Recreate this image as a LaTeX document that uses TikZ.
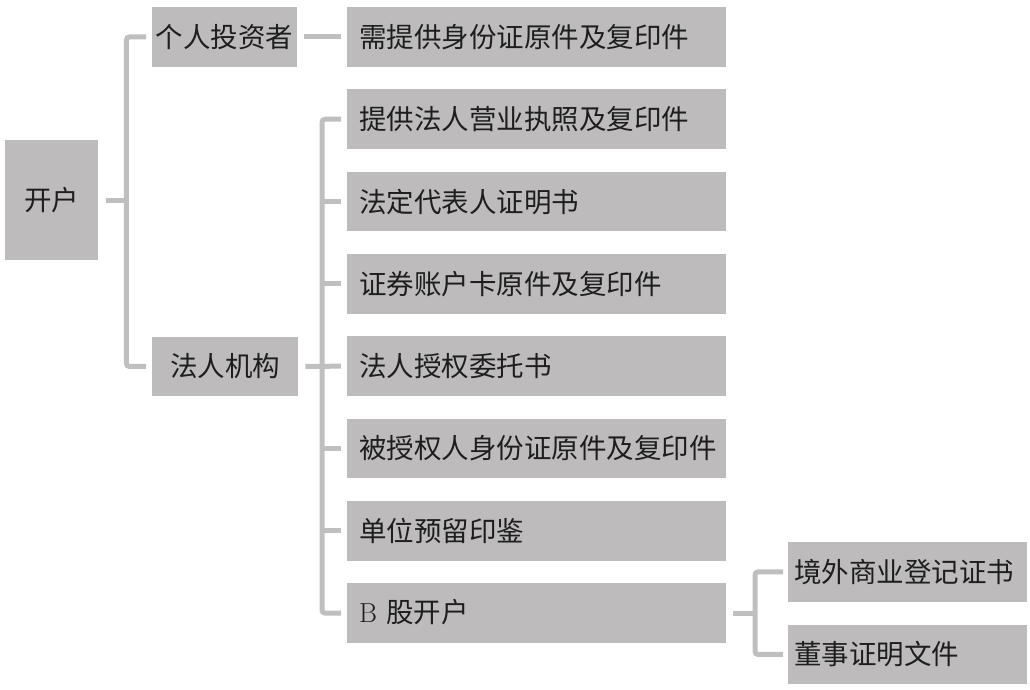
\documentclass[tikz,border=0pt]{standalone}
\usepackage{fontspec}
\newfontfamily\cjk{Noto Sans CJK SC}
\definecolor{boxgray}{RGB}{189,187,188}
\definecolor{linegray}{RGB}{192,191,191}
\definecolor{ink}{RGB}{30,30,30}
\begin{document}
\begin{tikzpicture}[x=1pt,y=-1pt,
  box/.style={fill=boxgray, draw=none, text=ink, inner sep=0pt, anchor=north west,
    font=\cjk\fontsize{27.5}{30}\selectfont},
  cbox/.style={box, align=center},
  lbox/.style={box, minimum width=379pt, minimum height=59.5pt, text width=355pt, align=left},
  sbox/.style={box, minimum width=239pt, minimum height=59.5pt, text width=227pt, align=left},
  conn/.style={draw=linegray, line width=5pt, rounded corners=3pt}
]
\useasboundingbox (0,0) rectangle (1030,690);

% level 0
\node[cbox, minimum width=93pt, minimum height=120pt] (kh) at (5,140) {开户};
% level 1
\node[cbox, minimum width=145pt, minimum height=59.5pt] (gr) at (152,7) {个人投资者};
\node[cbox, minimum width=146pt, minimum height=59.5pt] (fr) at (152,336.5) {法人机构};
% level 2
\node[lbox] (r0) at (347,7) {需提供身份证原件及复印件};
\node[lbox] (r1) at (347,89.3) {提供法人营业执照及复印件};
\node[lbox] (r2) at (347,171.6) {法定代表人证明书};
\node[lbox] (r3) at (347,253.9) {证券账户卡原件及复印件};
\node[lbox] (r4) at (347,336.2) {法人授权委托书};
\node[lbox] (r5) at (347,418.5) {被授权人身份证原件及复印件};
\node[lbox] (r6) at (347,500.8) {单位预留印鉴};
\node[lbox] (r7) at (347,583.1) {\raisebox{5pt}{{\rmfamily B} 股开户}};
% level 3
\node[sbox] (s1) at (788,542) {境外商业登记证书};
\node[sbox] (s2) at (788,624.5) {董事证明文件};

% connectors
\coordinate (j1) at ([xshift=28pt]kh.east);
\draw[conn] ([xshift=8pt]kh.east) -- (j1);
\draw[conn] ([xshift=-6pt]gr.west) -| (j1) |- ([xshift=-6pt]fr.west);
\draw[conn] ([xshift=7pt]gr.east) -- ([xshift=-6pt]r0.west);

\draw[conn] ([xshift=-6pt]r1.west) -| ([xshift=-25pt]r7.west) -- ([xshift=-6pt]r7.west);
\foreach \i in {2,3,5,6}{
  \draw[conn] ([xshift=-25pt]r\i.west) -- ([xshift=-6pt]r\i.west);
}
\draw[conn] ([xshift=7pt]fr.east) -- ([xshift=-6pt]r4.west);

\draw[conn] ([xshift=7pt]r7.east) -- ([xshift=29pt]r7.east);
\draw[conn] ([xshift=-5pt]s1.west) -| ([xshift=-33pt]s2.west) -- ([xshift=-5pt]s2.west);
\end{tikzpicture}
\end{document}
